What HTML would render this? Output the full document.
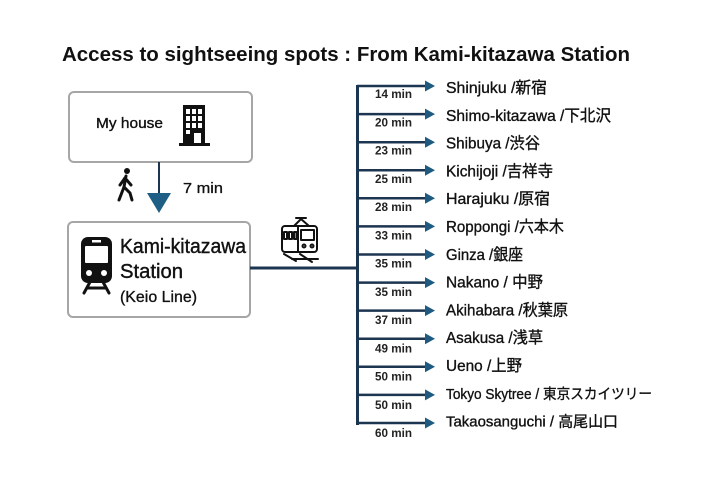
<!DOCTYPE html>
<html>
<head>
<meta charset="utf-8">
<style>
  html,body{margin:0;padding:0;background:#fff;}
  svg{display:block;}
  text{font-family:"Liberation Sans","Noto Sans CJK JP",sans-serif;fill:#111;}
  .lbl{font-size:16px;stroke:#111;stroke-width:0.35px;}
  .tm{font-size:12px;font-weight:bold;fill:#222;}
</style>
</head>
<body>
<svg width="720" height="480" viewBox="0 0 720 480" xmlns="http://www.w3.org/2000/svg">
  <rect width="720" height="480" fill="#fff"/>

  <!-- Title -->
  <text x="62" y="61" font-size="20" font-weight="bold" textLength="568" lengthAdjust="spacingAndGlyphs">Access to sightseeing spots : From Kami-kitazawa Station</text>

  <!-- My house box -->
  <rect x="69" y="92" width="183" height="70" rx="5" fill="#fff" stroke="#a6a6a6" stroke-width="2"/>
  <text x="96" y="128" font-size="15" stroke="#111" stroke-width="0.35" textLength="67" lengthAdjust="spacingAndGlyphs">My house</text>
  <!-- building -->
  <rect x="183" y="105" width="22" height="39" fill="#111"/>
  <rect x="179" y="143" width="31" height="3" fill="#111"/>
  <g fill="#fff">
    <rect x="186" y="109" width="4" height="5"/><rect x="192" y="109" width="4" height="5"/><rect x="198" y="109" width="4" height="5"/>
    <rect x="186" y="116" width="4" height="5"/><rect x="192" y="116" width="4" height="5"/><rect x="198" y="116" width="4" height="5"/>
    <rect x="186" y="123" width="4" height="5"/><rect x="192" y="123" width="4" height="5"/><rect x="198" y="123" width="4" height="5"/>
    <rect x="186" y="130" width="4" height="4"/>
    <rect x="194" y="133" width="7" height="10"/>
  </g>

  <!-- walk arrow -->
  <line x1="159" y1="162" x2="159" y2="196" stroke="#1c3550" stroke-width="2"/>
  <polygon points="147,193 171,193 159,213" fill="#1f5f86"/>
  <text x="183" y="193" font-size="15" stroke="#111" stroke-width="0.3" textLength="40" lengthAdjust="spacingAndGlyphs">7 min</text>
  <!-- walker -->
  <g stroke="#111" stroke-width="3" stroke-linecap="round" stroke-linejoin="round" fill="none">
    <path d="M126,176 L124,187"/>
    <path d="M124,187 L119,200"/>
    <path d="M124,187 L130,193 L132,200"/>
    <path d="M125,178 L120,185"/>
    <path d="M125,178 L131,185"/>
  </g>
  <circle cx="127" cy="171" r="3" fill="#111"/>

  <!-- Station box -->
  <rect x="68" y="222" width="182" height="95" rx="5" fill="#fff" stroke="#a6a6a6" stroke-width="2"/>
  <!-- train icon -->
  <rect x="81" y="237" width="31" height="46" rx="7" fill="#111"/>
  <rect x="92" y="240" width="9" height="2.5" fill="#fff"/>
  <rect x="85" y="246" width="23" height="17" rx="1" fill="#fff"/>
  <circle cx="89" cy="273" r="3" fill="#fff"/>
  <circle cx="104" cy="273" r="3" fill="#fff"/>
  <g stroke="#111" stroke-width="3" stroke-linecap="round">
    <line x1="90" y1="282" x2="84" y2="293"/>
    <line x1="103" y1="282" x2="109" y2="293"/>
    <line x1="87" y1="288" x2="106" y2="288"/>
  </g>
  <text x="120" y="253" font-size="20" stroke="#111" stroke-width="0.4" textLength="126" lengthAdjust="spacingAndGlyphs">Kami-kitazawa</text>
  <text x="120" y="278" font-size="20" stroke="#111" stroke-width="0.4" textLength="63" lengthAdjust="spacingAndGlyphs">Station</text>
  <text x="120" y="302" font-size="16" stroke="#111" stroke-width="0.35" textLength="77" lengthAdjust="spacingAndGlyphs">(Keio Line)</text>

  <!-- tram icon -->
  <g stroke="#111" stroke-width="2" fill="none" stroke-linejoin="round" stroke-linecap="round">
    <path d="M294,226 L301,219 L309,226"/>
    <line x1="296" y1="218" x2="306" y2="218"/>
    <rect x="282" y="226" width="35" height="26" rx="3"/>
    <line x1="298" y1="226" x2="298" y2="252"/>
    <rect x="301" y="230" width="13" height="10"/>
    <rect x="284" y="232" width="3" height="7"/>
    <rect x="289" y="232" width="3" height="7"/>
    <rect x="294" y="232" width="2.5" height="7"/>
    <circle cx="304" cy="246" r="1.5"/>
    <circle cx="312" cy="246" r="1.5"/>
    <line x1="284" y1="254" x2="296" y2="261"/>
    <line x1="300" y1="254" x2="312" y2="262"/>
    <line x1="292" y1="259" x2="318" y2="259"/>
  </g>

  <!-- connector -->
  <line x1="250" y1="268" x2="358" y2="268" stroke="#1c3550" stroke-width="3"/>
  <line x1="357.5" y1="85" x2="357.5" y2="425" stroke="#1c3550" stroke-width="3"/>

  <!-- branches -->
  <g stroke="#1c3550" stroke-width="2.5">
    <line x1="357" y1="86" x2="427" y2="86"/>
    <line x1="357" y1="114.1" x2="427" y2="114.1"/>
    <line x1="357" y1="142.2" x2="427" y2="142.2"/>
    <line x1="357" y1="170.2" x2="427" y2="170.2"/>
    <line x1="357" y1="198.3" x2="427" y2="198.3"/>
    <line x1="357" y1="226.4" x2="427" y2="226.4"/>
    <line x1="357" y1="254.5" x2="427" y2="254.5"/>
    <line x1="357" y1="282.6" x2="427" y2="282.6"/>
    <line x1="357" y1="310.6" x2="427" y2="310.6"/>
    <line x1="357" y1="338.7" x2="427" y2="338.7"/>
    <line x1="357" y1="366.8" x2="427" y2="366.8"/>
    <line x1="357" y1="394.9" x2="427" y2="394.9"/>
    <line x1="357" y1="423" x2="427" y2="423"/>
  </g>
  <g fill="#1f5a80">
    <polygon points="425,80.5 435,86 425,91.5"/>
    <polygon points="425,108.6 435,114.1 425,119.6"/>
    <polygon points="425,136.7 435,142.2 425,147.7"/>
    <polygon points="425,164.7 435,170.2 425,175.7"/>
    <polygon points="425,192.8 435,198.3 425,203.8"/>
    <polygon points="425,220.9 435,226.4 425,231.9"/>
    <polygon points="425,249 435,254.5 425,260"/>
    <polygon points="425,277.1 435,282.6 425,288.1"/>
    <polygon points="425,305.1 435,310.6 425,316.1"/>
    <polygon points="425,333.2 435,338.7 425,344.2"/>
    <polygon points="425,361.3 435,366.8 425,372.3"/>
    <polygon points="425,389.4 435,394.9 425,400.4"/>
    <polygon points="425,417.5 435,423 425,428.5"/>
  </g>

  <!-- time labels -->
  <g class="tm">
    <text class="tm" x="375" y="98" textLength="37" lengthAdjust="spacingAndGlyphs">14 min</text>
    <text class="tm" x="375" y="126.3" textLength="37" lengthAdjust="spacingAndGlyphs">20 min</text>
    <text class="tm" x="375" y="154.5" textLength="37" lengthAdjust="spacingAndGlyphs">23 min</text>
    <text class="tm" x="375" y="182.8" textLength="37" lengthAdjust="spacingAndGlyphs">25 min</text>
    <text class="tm" x="375" y="211" textLength="37" lengthAdjust="spacingAndGlyphs">28 min</text>
    <text class="tm" x="375" y="239.3" textLength="37" lengthAdjust="spacingAndGlyphs">33 min</text>
    <text class="tm" x="375" y="267.5" textLength="37" lengthAdjust="spacingAndGlyphs">35 min</text>
    <text class="tm" x="375" y="295.8" textLength="37" lengthAdjust="spacingAndGlyphs">35 min</text>
    <text class="tm" x="375" y="324" textLength="37" lengthAdjust="spacingAndGlyphs">37 min</text>
    <text class="tm" x="375" y="352.3" textLength="37" lengthAdjust="spacingAndGlyphs">49 min</text>
    <text class="tm" x="375" y="380.5" textLength="37" lengthAdjust="spacingAndGlyphs">50 min</text>
    <text class="tm" x="375" y="408.8" textLength="37" lengthAdjust="spacingAndGlyphs">50 min</text>
    <text class="tm" x="375" y="437" textLength="37" lengthAdjust="spacingAndGlyphs">60 min</text>
  </g>

  <!-- destination labels -->
  <text class="lbl" x="446" y="93" textLength="101" lengthAdjust="spacingAndGlyphs">Shinjuku /新宿</text>
  <text class="lbl" x="446" y="120.8" textLength="165" lengthAdjust="spacingAndGlyphs">Shimo-kitazawa /下北沢</text>
  <text class="lbl" x="446" y="148.6" textLength="94" lengthAdjust="spacingAndGlyphs">Shibuya /渋谷</text>
  <text class="lbl" x="446" y="176.4" textLength="107" lengthAdjust="spacingAndGlyphs">Kichijoji /吉祥寺</text>
  <text class="lbl" x="446" y="204.2" textLength="104" lengthAdjust="spacingAndGlyphs">Harajuku /原宿</text>
  <text class="lbl" x="446" y="232" textLength="118" lengthAdjust="spacingAndGlyphs">Roppongi /六本木</text>
  <text class="lbl" x="446" y="259.8" textLength="77" lengthAdjust="spacingAndGlyphs">Ginza /銀座</text>
  <text class="lbl" x="446" y="287.6" textLength="97" lengthAdjust="spacingAndGlyphs">Nakano / 中野</text>
  <text class="lbl" x="446" y="315.4" textLength="122" lengthAdjust="spacingAndGlyphs">Akihabara /秋葉原</text>
  <text class="lbl" x="446" y="343.2" textLength="97" lengthAdjust="spacingAndGlyphs">Asakusa /浅草</text>
  <text class="lbl" x="446" y="371" textLength="76" lengthAdjust="spacingAndGlyphs">Ueno /上野</text>
  <text class="lbl" x="446" y="398.8" font-size="14.5" style="font-size:14.5px" textLength="206" lengthAdjust="spacingAndGlyphs">Tokyo Skytree / 東京スカイツリー</text>
  <text class="lbl" x="446" y="426.6" style="font-size:15px" textLength="172" lengthAdjust="spacingAndGlyphs">Takaosanguchi / 高尾山口</text>
</svg>
</body>
</html>
